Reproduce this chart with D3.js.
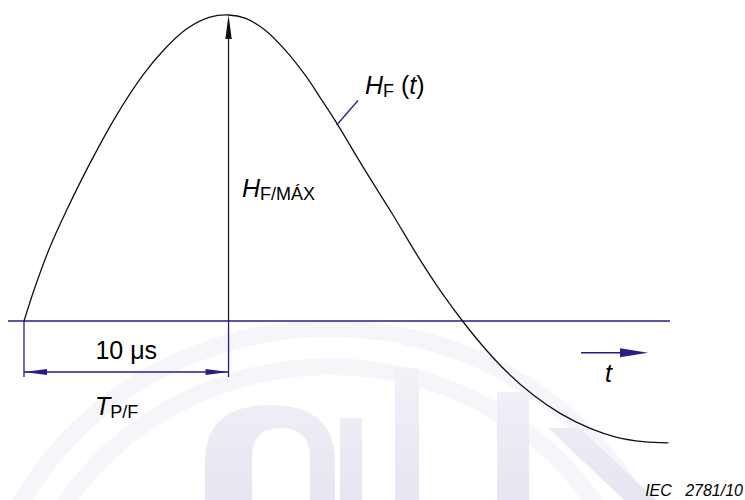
<!DOCTYPE html>
<html>
<head>
<meta charset="utf-8">
<script src="https://cdn.jsdelivr.net/npm/d3@7"></script>
<style>
  html, body { margin: 0; padding: 0; background: #fff; }
  svg { display: block; }
  text { font-family: "Liberation Sans", Arial, sans-serif; }
</style>
</head>
<body>
<svg id="chart" width="745" height="500"></svg>
<script>
// ---- data ----
const timeUs = [0, 0.54, 1.27, 2.09, 3.23, 4.53, 5.83, 6.81, 7.96, 9.09, 10.0, 10.81, 11.78, 12.76, 13.74, 14.56, 15.34, 16.67, 17.98, 19.28, 20.43, 21.44, 22.46, 23.60, 24.90, 26.21, 27.68, 28.98, 30.28, 31.50];
const fieldRel = [0, 0.111, 0.242, 0.363, 0.516, 0.673, 0.805, 0.884, 0.955, 0.993, 1.0, 0.990, 0.951, 0.886, 0.804, 0.722, 0.641, 0.493, 0.353, 0.209, 0.092, 0, -0.084, -0.166, -0.242, -0.302, -0.351, -0.380, -0.394, -0.398];
const peakTime = [10];
const dimLabel = ["10 μs"];
const figureId = ["IEC   2781/10"];

const navy = "#2e1a86";

const svg = d3.select("#chart");
const defs = svg.append("defs");
const grad = defs.append("linearGradient")
  .attr("id", "wmgrad").attr("gradientUnits", "userSpaceOnUse")
  .attr("x1", 0).attr("y1", 320).attr("x2", 0).attr("y2", 500);
grad.append("stop").attr("offset", 0).attr("stop-color", "#f6f6fa");
grad.append("stop").attr("offset", 1).attr("stop-color", "#e6e5f1");
const wm = "url(#wmgrad)";

const x = d3.scaleLinear().domain([0, 31.5]).range([24, 668.3]);
const y = d3.scaleLinear().domain([0, 1]).range([321, 15]);

// ---- faint watermark (background logo) ----
const wmG = svg.append("g");
function ring(cx, cy, rOut, rIn, sy) {
  wmG.append("path")
    .attr("transform", `translate(${cx},${cy}) scale(1,${sy})`)
    .attr("d", d3.arc()({innerRadius: rIn, outerRadius: rOut, startAngle: 0, endAngle: 2 * Math.PI}))
    .attr("fill", wm);
}
ring(330, 660, 360, 342, 340 / 360);
ring(330, 660, 322, 304, 296 / 316);
wmG.append("path")
  .attr("fill-rule", "evenodd")
  .attr("fill", wm)
  .attr("d", "M205,500 L205,462 Q205,405 270,405 Q335,405 335,462 L335,500 Z M252,500 L252,458 Q252,428 281,428 Q310,428 310,458 L310,500 Z");
wmG.append("rect").attr("x", 340).attr("y", 418).attr("width", 22).attr("height", 82).attr("fill", wm);
wmG.append("rect").attr("x", 395).attr("y", 368).attr("width", 24).attr("height", 132).attr("fill", wm);
wmG.append("rect").attr("x", 497).attr("y", 392).attr("width", 32).attr("height", 108).attr("fill", wm);
wmG.append("path").attr("fill", wm).attr("d", "M548,428 L580,428 L656,500 L624,500 Z");

// ---- baseline ----
svg.append("line")
  .attr("x1", 8).attr("x2", 670)
  .attr("y1", y(0)).attr("y2", y(0))
  .attr("stroke", navy).attr("stroke-width", 1.4);

// ---- curve ----
const pts = timeUs.map((t, i) => [t, fieldRel[i]]);
svg.append("path")
  .datum(pts)
  .attr("fill", "none")
  .attr("stroke", "#111")
  .attr("stroke-width", 1.3)
  .attr("d", d3.line().x(d => x(d[0])).y(d => y(d[1])).curve(d3.curveCatmullRom.alpha(0.5)));

// ---- peak arrow ----
const xp = x(peakTime[0]);
svg.append("line")
  .attr("x1", xp).attr("x2", xp)
  .attr("y1", y(0)).attr("y2", y(1) + 20)
  .attr("stroke", "#111").attr("stroke-width", 1.2);
svg.append("path")
  .attr("fill", "#111")
  .attr("d", `M${xp},${y(1)} L${xp - 3.2},${y(1) + 24} L${xp + 3.2},${y(1) + 24} Z`);

// ---- dimension lines ----
const x0 = x(0);
const yDim = 372;
[x0, xp].forEach(xx => {
  svg.append("line")
    .attr("x1", xx).attr("x2", xx)
    .attr("y1", y(0)).attr("y2", 377)
    .attr("stroke", navy).attr("stroke-width", 1.3);
});
svg.append("line")
  .attr("x1", x0).attr("x2", xp)
  .attr("y1", yDim).attr("y2", yDim)
  .attr("stroke", navy).attr("stroke-width", 1.3);
svg.append("path").attr("fill", navy)
  .attr("d", `M${x0},${yDim} L${x0 + 23},${yDim - 3} L${x0 + 23},${yDim + 3} Z`);
svg.append("path").attr("fill", navy)
  .attr("d", `M${xp},${yDim} L${xp - 23},${yDim - 3} L${xp - 23},${yDim + 3} Z`);

svg.append("text")
  .attr("x", (x0 + xp) / 2).attr("y", 359)
  .attr("text-anchor", "middle")
  .attr("font-size", 25)
  .text(dimLabel[0]);

// T P/F
const tp = svg.append("text").attr("x", 95).attr("y", 415).attr("font-size", 25);
tp.append("tspan").attr("font-style", "italic").text("T");
tp.append("tspan").attr("font-size", 18).attr("dy", 3).text("P/F");

// H F (t) label + leader
svg.append("line")
  .attr("x1", 358).attr("y1", 100.5).attr("x2", 336.7).attr("y2", 125)
  .attr("stroke", navy).attr("stroke-width", 1.3);
const hf = svg.append("text").attr("x", 365).attr("y", 93.5).attr("font-size", 25);
hf.append("tspan").attr("font-style", "italic").text("H");
hf.append("tspan").attr("font-size", 18).attr("dy", 3).text("F");
hf.append("tspan").attr("dy", -3).text(" (");
hf.append("tspan").attr("font-style", "italic").text("t");
hf.append("tspan").text(")");

// H F/MÁX
const hm = svg.append("text").attr("x", 242).attr("y", 196.5).attr("font-size", 25);
hm.append("tspan").attr("font-style", "italic").text("H");
hm.append("tspan").attr("font-size", 18).attr("dy", 3).text("F/MÁX");

// time arrow
svg.append("line")
  .attr("x1", 581).attr("x2", 622)
  .attr("y1", 352.7).attr("y2", 352.7)
  .attr("stroke", navy).attr("stroke-width", 1.4);
svg.append("path").attr("fill", navy)
  .attr("d", "M620,348.2 L648,352.7 L620,357.2 Z");
svg.append("rect").attr("x", 604).attr("y", 360).attr("width", 19).attr("height", 28).attr("fill", "#fff");
svg.append("text")
  .attr("x", 605).attr("y", 382)
  .attr("font-size", 25).attr("font-style", "italic")
  .text("t");

// figure id
svg.append("text")
  .attr("x", 743).attr("y", 496)
  .attr("text-anchor", "end")
  .attr("font-size", 16).attr("font-style", "italic")
  .style("white-space", "pre")
  .text(figureId[0]);
</script>
</body>
</html>
